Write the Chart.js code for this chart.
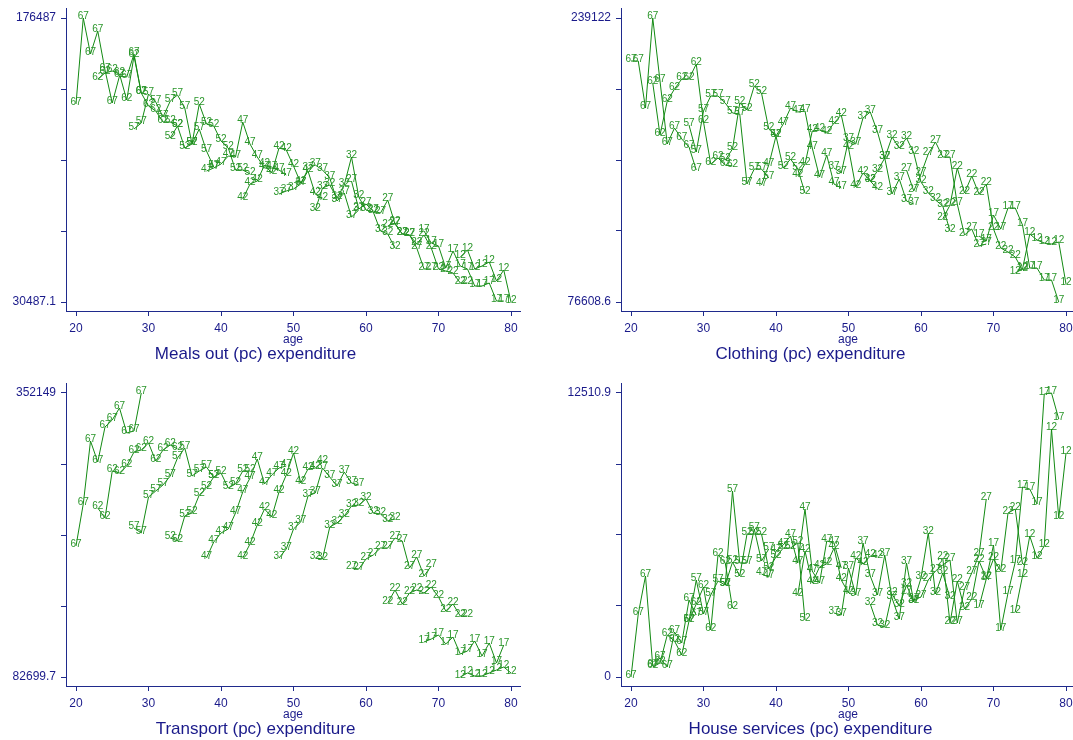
<!DOCTYPE html>
<html><head><meta charset="utf-8">
<script src="https://cdn.jsdelivr.net/npm/chart.js@4.4.1/dist/chart.umd.min.js"></script>
<style>
html,body{margin:0;padding:0;background:#fff;}
body{width:1073px;height:740px;position:relative;overflow:hidden;}
canvas{position:absolute;}
</style></head><body>
<canvas id="c1" width="536" height="370" style="left:0;top:0"></canvas>
<canvas id="c2" width="536" height="370" style="left:555px;top:0"></canvas>
<canvas id="c3" width="536" height="370" style="left:0;top:375px"></canvas>
<canvas id="c4" width="536" height="370" style="left:555px;top:375px"></canvas>
<script>
// ---- data ----
const cohorts = ['67','62','57','52','47','42','37','32','27','22','17','12'];
const firstAge = [20,23,28,33,38,43,48,53,58,63,68,73];
const xTicks = [20,30,40,50,60,70,80];

const mealsYLabels = ['30487.1','176487'];
const clothingYLabels = ['76608.6','239122'];
const transportYLabels = ['82699.7','352149'];
const houseYLabels = ['0','12510.9'];

const mealsOut = [
  [132275,176487,157979,169803,149754,132789,146669,146155,157979,137930],
  [145127,148211,149239,147697,134331,156951,137930,131247,128676,123021,123021,120965],
  [119423,122507,137416,133303,125592,133817,136902,130219,111712,119423,108113,99888],
  [114796,120965,109655,111712,132275,121993,120965,113254,109655,98346,98346,96289],
  [97831,99374,101430,105543,105029,123021,111712,105029,99374,99374,98346,95775],
  [83437,91148,92691,100916,96803,109655,108627,100402,91663,97831,86008,83437],
  [86008,87550,88578,91148,98860,100916,98346,94233,82409,86522,74184,77782],
  [77782,89092,90634,83951,90634,105029,84465,77782,76754,66987,65444,58247],
  [92691,78296,80867,77268,76240,82923,70585,65444,64930,58247,47452,47452],
  [69557,71099,65444,64930,60304,64930,58247,47452,46423,45395,40255,40255],
  [66987,60818,59275,47966,56705,48994,47452,38712,38712,40255,30999,30999],
  [53621,57219,47452,48994,51050,41283,46938,30487.1]
];
const clothing = [
  [214509,214509,187616,239122,203065,167017,176172,169878,165300,152139],
  [201921,172166,191621,198488,204210,204210,212793,179605,155573,159006,155000,154428],
  [177888,162439,185899,194482,194482,190477,184755,184183,144129,152712,152712,147562],
  [157861,164156,190477,186471,200204,196199,175600,171594,153284,158434,152712,138979],
  [143556,155000,171594,178461,187616,185327,185899,164728,148134,160722,144129,141840],
  [148706,155573,174455,175027,173311,179033,183610,164728,142412,150423,145845,141268],
  [153284,150423,169305,167017,181894,185327,173883,159006,138407,146990,134401,132685],
  [145845,151567,159006,171022,164728,170450,161867,145273,138979,134973,131540,117235],
  [152139,140123,149851,161295,168161,159578,159578,132685,114946,118380,108652,109797],
  [124102,132112,153284,138979,148706,138407,144129,118380,107508,105219,102358,94919],
  [114374,111513,126390,118380,130396,130396,120668,96064,96064,89197,89197,76608.6],
  [93203,95492,115519,112085,110369,109797,110941,86909]
];
const transport = [
  [207000,246840,306600,286700,319900,326540,337930,314200,316100,352149],
  [243050,233560,278150,276250,282900,296180,298080,304720,287640,298080,302820,299030],
  [224070,219330,253480,259180,264870,273410,290490,299980,273410,278150,281950,272000],
  [214580,211740,235460,238300,255380,262020,272460,276250,262020,265820,278150,278150],
  [195610,210790,219330,223120,238300,258230,271510,289540,265820,274360,281000,282900],
  [195610,208890,226920,242100,234510,258230,274360,295230,266770,280050,281000,286690],
  [195610,204150,223120,229760,254430,257280,281000,272460,263920,277200,266770,264870],
  [195610,194660,225020,228820,235460,244940,245890,251590,238300,237350,230710,232610],
  [186120,185170,194660,198450,205100,205100,214580,211740,186120,196560,178530,188020],
  [152910,165250,151960,162400,165250,162400,168090,158600,145320,151960,140580,140580],
  [115910,118750,122550,114010,120650,104520,107370,116860,102620,114960,95980,113060],
  [82699.7,86500,83650,83650,86500,89340,92190,86500]
];
const houseServices = [
  [0,2775,4449,485,837,441,1982,1498,3392,2731],
  [441,617,1850,1586,969,2467,3216,3965,2070,5374,5022,3039],
  [2467,4273,2775,3612,4229,4053,8193,5022,5022,6519,5110,5638],
  [4053,5066,4449,6299,6299,6299,4757,5286,5682,5682,5903,2511],
  [4537,4405,5550,5815,6211,5022,7400,4669,4141,5991,5903,4801],
  [3612,5550,4141,4846,4978,5682,4273,3700,5242,4978,5330,5286],
  [2819,2731,4801,3612,5903,4449,3612,5374,3480,2555,5022,3304],
  [3216,2291,2203,3656,3128,4053,3304,4361,6343,3656,4581,3480],
  [3700,3392,3524,4273,4669,4934,5154,2379,3876,4581,5374,7841],
  [5242,2379,4229,2995,3436,5110,4361,5198,4669,7224,7400,4978],
  [3084,4317,5815,2070,3700,5066,8370,8281,7621,12466,12510.9,11365],
  [2863,4449,6211,5242,5771,10924,7004,9867]
];

// ---- style ----
const FONT = '"Liberation Sans", Arial, Helvetica, sans-serif';
const AXIS = '#1f2a8c';
const TEXT = '#1a1a8a';
const LINE = '#138a13';
const LABEL = '#2a962a';
Chart.defaults.font.family = FONT;

const cohortLabelPlugin = {
  id: 'cohortLabels',
  afterDatasetsDraw(chart) {
    const ctx = chart.ctx;
    ctx.save();
    ctx.font = '10px ' + FONT;
    ctx.fillStyle = LABEL;
    ctx.textAlign = 'center';
    ctx.textBaseline = 'alphabetic';
    chart.data.datasets.forEach((ds, i) => {
      chart.getDatasetMeta(i).data.forEach(pt => ctx.fillText(ds.label, pt.x, pt.y + 1));
    });
    ctx.restore();
  }
};
const panelTitlePlugin = {
  id: 'panelTitle',
  afterDraw(chart, args, opts) {
    const ctx = chart.ctx;
    ctx.save();
    ctx.font = '17px ' + FONT;
    ctx.fillStyle = TEXT;
    ctx.textAlign = 'center';
    ctx.textBaseline = 'middle';
    ctx.fillText(opts.text, 255.5, 354.5);
    ctx.restore();
  }
};

function makeChart(id, values, yLabels, title) {
  const yMin = parseFloat(yLabels[0]), yMax = parseFloat(yLabels[1]);
  const R = yMax - yMin;
  const xMin = 20 - 10 / 7.25, xMax = xMin + 454 / 7.25;
  const datasets = cohorts.map((c, i) => ({
    label: c,
    data: values[i].map((v, j) => ({ x: firstAge[i] + j, y: v })),
    borderColor: LINE, borderWidth: 1, pointRadius: 0, pointHoverRadius: 0,
    tension: 0, fill: false
  }));
  return new Chart(document.getElementById(id), {
    type: 'line',
    data: { datasets },
    options: {
      responsive: false, animation: false, devicePixelRatio: 1,
      layout: { padding: { left: 0, top: 8, right: 16, bottom: 23 } },
      plugins: { legend: { display: false }, tooltip: { enabled: false }, title: { display: false },
                 panelTitle: { text: title } },
      scales: {
        x: {
          type: 'linear', min: xMin, max: xMax,
          afterBuildTicks: s => { s.ticks = xTicks.map(v => ({ value: v })); },
          ticks: { autoSkip: false, maxRotation: 0, padding: 5, color: TEXT, font: { size: 12 },
                   callback: v => String(v) },
          grid: { drawOnChartArea: false, drawTicks: true, tickLength: 5, color: AXIS },
          border: { display: true, color: AXIS, width: 1 },
          title: { display: true, text: 'age', color: TEXT, font: { size: 12 }, padding: { top: 0, bottom: 0 } },
          afterFit: s => { s.height = 36; s.paddingLeft = 0; s.paddingRight = 0; }
        },
        y: {
          type: 'linear', min: yMin - R * 9 / 284, max: yMax + R * 10 / 284,
          afterBuildTicks: s => { s.ticks = [0, 1, 2, 3, 4].map(k => ({ value: yMin + R * k / 4 })); },
          ticks: { autoSkip: false, padding: 5, color: TEXT, font: { size: 12 },
                   callback: (v, idx) => idx === 0 ? yLabels[0] : (idx === 4 ? yLabels[1] : '') },
          grid: { drawOnChartArea: false, drawTicks: true, tickLength: 5, color: AXIS },
          border: { display: true, color: AXIS, width: 1 },
          afterFit: s => { s.width = 66; s.paddingTop = 0; s.paddingBottom = 0; }
        }
      }
    },
    plugins: [cohortLabelPlugin, panelTitlePlugin]
  });
}

makeChart('c1', mealsOut, mealsYLabels, 'Meals out (pc) expenditure');
makeChart('c2', clothing, clothingYLabels, 'Clothing (pc) expenditure');
makeChart('c3', transport, transportYLabels, 'Transport (pc) expenditure');
makeChart('c4', houseServices, houseYLabels, 'House services (pc) expenditure');
</script>
</body></html>
